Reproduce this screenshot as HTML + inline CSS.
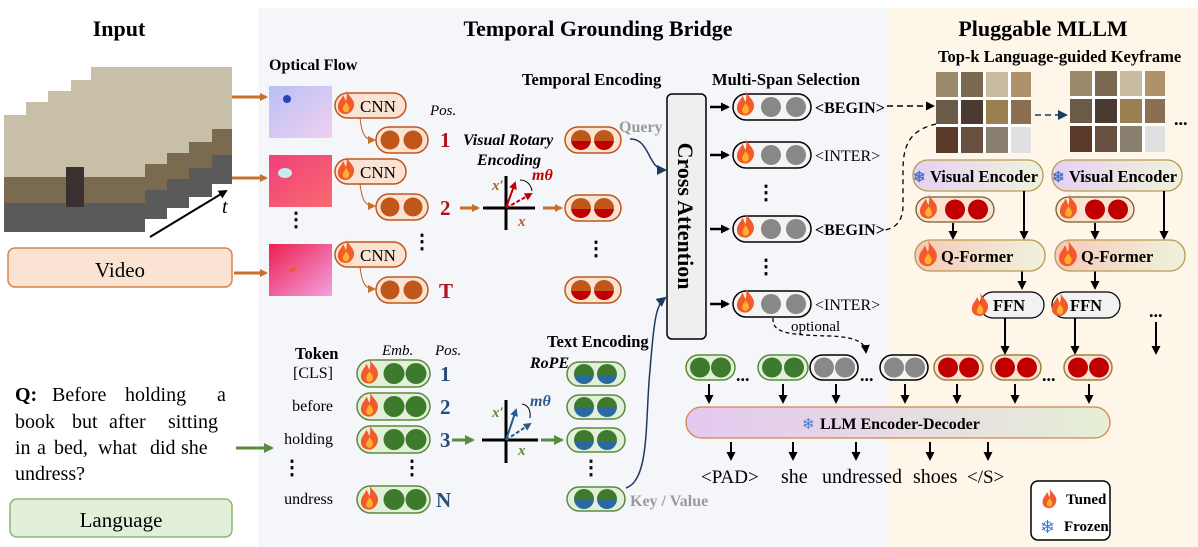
<!DOCTYPE html>
<html><head><meta charset="utf-8"><style>
html,body{margin:0;padding:0;background:#fff;}
svg{display:block;}
text{font-family:"Liberation Serif",serif;}
.b{font-weight:bold;}
.m{font-family:"Liberation Mono",monospace;}
</style></head><body>
<svg width="1198" height="547" viewBox="0 0 1198 547" xmlns="http://www.w3.org/2000/svg">
<defs>
<symbol id="fire" viewBox="0 0 20 24"><path d="M10 0 C12 6 19 9 18 16 C17 21 13 24 10 24 C5 24 1 21 2 15 C3 10 6 9 7 5 C9 8 9 10 10 11 C11 7 11 4 10 0Z" fill="#f25a2a"/><path d="M10 12 C12 15 14 17 13 20 C12 23 8 23 7 20 C6 17 9 15 10 12Z" fill="#fbb030"/></symbol>
<marker id="ao" markerWidth="8" markerHeight="8" refX="6" refY="4" orient="auto" markerUnits="userSpaceOnUse"><path d="M0 0L8 4L0 8Z" fill="#c8702a"/></marker>
<marker id="ak" markerWidth="9" markerHeight="9" refX="7" refY="4.5" orient="auto" markerUnits="userSpaceOnUse"><path d="M0 0L9 4.5L0 9Z" fill="#000"/></marker>
<marker id="an" markerWidth="10" markerHeight="10" refX="8" refY="5" orient="auto" markerUnits="userSpaceOnUse"><path d="M0 0L10 5L0 10Z" fill="#1f3a60"/></marker>
<marker id="ag" markerWidth="10" markerHeight="10" refX="8" refY="5" orient="auto" markerUnits="userSpaceOnUse"><path d="M0 0L10 5L0 10Z" fill="#5b8a3c"/></marker>
<marker id="ar" markerWidth="8" markerHeight="8" refX="6" refY="4" orient="auto" markerUnits="userSpaceOnUse"><path d="M0 0L8 4L0 8Z" fill="#c00000"/></marker>
<marker id="ab" markerWidth="8" markerHeight="8" refX="6" refY="4" orient="auto" markerUnits="userSpaceOnUse"><path d="M0 0L8 4L0 8Z" fill="#2a5b8c"/></marker>
<linearGradient id="ve" x1="0" x2="1"><stop offset="0" stop-color="#e6d0f2"/><stop offset="1" stop-color="#eef3dc"/></linearGradient>
<linearGradient id="qf" x1="0" x2="1"><stop offset="0" stop-color="#f6c9b8"/><stop offset="1" stop-color="#eef3dc"/></linearGradient>
<linearGradient id="llm" x1="0" x2="1"><stop offset="0" stop-color="#e5c8f0"/><stop offset="1" stop-color="#e6efd6"/></linearGradient>
<linearGradient id="te" x1="0" y1="0" x2="0" y2="1"><stop offset="0.55" stop-color="#c0561a"/><stop offset="0.56" stop-color="#c00000"/></linearGradient>
<linearGradient id="tg" x1="0" y1="0" x2="0" y2="1"><stop offset="0.55" stop-color="#3e7a2e"/><stop offset="0.56" stop-color="#2a6aa0"/></linearGradient>
<linearGradient id="f1" x1="0" y1="0" x2="1" y2="1"><stop offset="0" stop-color="#b8c0f4"/><stop offset="1" stop-color="#f0d0f2"/></linearGradient>
<linearGradient id="f2" x1="0" y1="0" x2="1" y2="1"><stop offset="0" stop-color="#f0407a"/><stop offset="1" stop-color="#f86a70"/></linearGradient>
<linearGradient id="f3" x1="0" y1="0" x2="1" y2="1"><stop offset="0" stop-color="#ec2050"/><stop offset="1" stop-color="#f4a0e0"/></linearGradient>
<g id="frame"><rect width="141" height="117" fill="#c8bfa8"/><rect y="62" width="141" height="55" fill="#7a6a50"/><rect y="88" width="141" height="29" fill="#5a5a5a"/><rect x="62" y="52" width="18" height="40" fill="#3a3030"/></g>
<g id="kf"><rect width="95" height="81" fill="#fff"/>
<rect x="0" y="0" width="22" height="25" fill="#9a8a6a"/><rect x="25" y="0" width="22" height="25" fill="#7a6850"/><rect x="50" y="0" width="22" height="25" fill="#c8bca0"/><rect x="75" y="0" width="20" height="25" fill="#b0926a"/>
<rect x="0" y="28" width="22" height="24" fill="#6a5a48"/><rect x="25" y="28" width="22" height="24" fill="#4a3a30"/><rect x="50" y="28" width="22" height="24" fill="#9a8050"/><rect x="75" y="28" width="20" height="24" fill="#8a7050"/>
<rect x="0" y="55" width="22" height="26" fill="#5a3a28"/><rect x="25" y="55" width="22" height="26" fill="#6a5040"/><rect x="50" y="55" width="22" height="26" fill="#8a8070"/><rect x="75" y="55" width="20" height="26" fill="#e0e0e0"/></g>
</defs>

<rect x="258" y="8" width="630" height="539" fill="#f4f6fa"/>
<rect x="888" y="8" width="310" height="539" fill="#fdf6e9"/>

<text x="119" y="36" font-size="22" class="b" text-anchor="middle">Input</text>
<text x="598" y="36" font-size="22" class="b" text-anchor="middle">Temporal Grounding Bridge</text>
<text x="1043" y="36" font-size="22" class="b" text-anchor="middle">Pluggable MLLM</text>

<use href="#frame" x="91" y="67"/>
<use href="#frame" x="71" y="80"/>
<use href="#frame" x="48" y="91"/>
<use href="#frame" x="26" y="102"/>
<use href="#frame" x="4" y="115"/>
<line x1="150" y1="237" x2="226" y2="191" stroke="#000" stroke-width="2" marker-end="url(#ak)"/>
<text x="222" y="213" font-size="20" font-family="DejaVu Sans" font-style="italic">t</text>
<rect x="8" y="248" width="224" height="39" rx="7" fill="#fbe3d3" stroke="#d8834a" stroke-width="1.5"/>
<text x="120" y="277" font-size="21" text-anchor="middle">Video</text>
<g stroke="#c8702a" stroke-width="3" marker-end="url(#ao)">
<line x1="232" y1="97" x2="266" y2="97"/><line x1="232" y1="178" x2="266" y2="178"/><line x1="234" y1="273" x2="266" y2="273"/></g>

<text x="269" y="70" font-size="16" class="b">Optical Flow</text>
<rect x="269" y="86" width="63" height="52" fill="url(#f1)"/><circle cx="287" cy="99" r="4" fill="#2a40c0"/>
<rect x="269" y="155" width="63" height="52" fill="url(#f2)"/><ellipse cx="285" cy="173" rx="7" ry="5" fill="#c8eaf0"/>
<rect x="269" y="244" width="63" height="52" fill="url(#f3)"/><path d="M287 270l10 -3 -3 5z" fill="#e06020"/>
<g font-size="20" font-weight="bold"><text x="286" y="226">⋮</text><text x="412" y="248">⋮</text></g>

<g>
<rect x="335" y="93" width="71" height="25" rx="12.5" fill="#fbe3d3" stroke="#c0561a" stroke-width="1.5"/><use href="#fire" x="336" y="89" width="20" height="26"/><text x="360" y="112" font-size="17">CNN</text>
<rect x="335" y="159" width="71" height="25" rx="12.5" fill="#fbe3d3" stroke="#c0561a" stroke-width="1.5"/><use href="#fire" x="336" y="155" width="20" height="26"/><text x="360" y="178" font-size="17">CNN</text>
<rect x="335" y="242" width="71" height="25" rx="12.5" fill="#fbe3d3" stroke="#c0561a" stroke-width="1.5"/><use href="#fire" x="336" y="238" width="20" height="26"/><text x="360" y="261" font-size="17">CNN</text>
</g>
<g fill="none" stroke="#c0561a" stroke-width="1">
<path d="M360 118 C362 135 365 140 374 140" marker-end="url(#ao)"/><path d="M360 184 C362 200 365 206 374 206" marker-end="url(#ao)"/><path d="M360 267 C362 283 365 289 374 289" marker-end="url(#ao)"/></g>
<g>
<rect x="376" y="127" width="52" height="26" rx="13" fill="#fbe3d3" stroke="#c0561a" stroke-width="1.5"/><circle cx="390" cy="140" r="9.5" fill="#c0561a"/><circle cx="413" cy="140" r="9.5" fill="#c0561a"/>
<rect x="376" y="194" width="52" height="26" rx="13" fill="#fbe3d3" stroke="#c0561a" stroke-width="1.5"/><circle cx="390" cy="207" r="9.5" fill="#c0561a"/><circle cx="413" cy="207" r="9.5" fill="#c0561a"/>
<rect x="376" y="277" width="52" height="26" rx="13" fill="#fbe3d3" stroke="#c0561a" stroke-width="1.5"/><circle cx="390" cy="290" r="9.5" fill="#c0561a"/><circle cx="413" cy="290" r="9.5" fill="#c0561a"/>
</g>
<text x="430" y="115" font-size="15" font-style="italic">Pos.</text>
<g fill="#b01020" font-size="21" font-weight="bold"><text x="440" y="147">1</text><text x="440" y="215">2</text><text x="439" y="298">T</text></g>

<text x="463" y="145" font-size="16" font-weight="bold" font-style="italic">Visual Rotary</text>
<text x="477" y="165" font-size="16" font-weight="bold" font-style="italic">Encoding</text>
<line x1="460" y1="208" x2="478" y2="208" stroke="#c8702a" stroke-width="3" marker-end="url(#ao)"/>
<line x1="483" y1="208" x2="535" y2="208" stroke="#000" stroke-width="3"/>
<line x1="506" y1="176" x2="506" y2="230" stroke="#000" stroke-width="3"/>
<line x1="506" y1="208" x2="515" y2="183" stroke="#c00000" stroke-width="2" marker-end="url(#ar)"/>
<line x1="506" y1="208" x2="531" y2="194" stroke="#c00000" stroke-width="2" stroke-dasharray="4 2" marker-end="url(#ar)"/>
<path d="M532 191 C531 184 526 180 520 180" fill="none" stroke="#000" stroke-width="1"/>
<text x="492" y="190" font-size="15" font-style="italic" font-weight="bold" fill="#c0561a">x′</text>
<text x="518" y="226" font-size="15" font-style="italic" font-weight="bold" fill="#c0561a">x</text>
<text x="532" y="180" font-size="16" font-style="italic" font-weight="bold" fill="#c00000">mθ</text>
<line x1="543" y1="208" x2="561" y2="208" stroke="#c8702a" stroke-width="3" marker-end="url(#ao)"/>

<text x="522" y="85" font-size="16.5" class="b">Temporal Encoding</text>
<g>
<rect x="565" y="127" width="56" height="26" rx="13" fill="#fbe3d3" stroke="#c0561a" stroke-width="1.5"/><circle cx="581" cy="140" r="10" fill="url(#te)"/><circle cx="604" cy="140" r="10" fill="url(#te)"/>
<rect x="565" y="195" width="56" height="26" rx="13" fill="#fbe3d3" stroke="#c0561a" stroke-width="1.5"/><circle cx="581" cy="208" r="10" fill="url(#te)"/><circle cx="604" cy="208" r="10" fill="url(#te)"/>
<rect x="565" y="277" width="56" height="26" rx="13" fill="#fbe3d3" stroke="#c0561a" stroke-width="1.5"/><circle cx="581" cy="290" r="10" fill="url(#te)"/><circle cx="604" cy="290" r="10" fill="url(#te)"/>
</g>
<text x="586" y="255" font-size="20" font-weight="bold">⋮</text>
<text x="619" y="132" font-size="16" font-weight="bold" fill="#9a9a9a">Query</text>
<path d="M630 139 C650 138 648 170 665 170" fill="none" stroke="#1f3a60" stroke-width="1.5" marker-end="url(#an)"/>

<rect x="667" y="94" width="39" height="245" rx="5" fill="#efefef" stroke="#000" stroke-width="1.5"/>
<text transform="translate(678,216) rotate(90)" font-size="22" font-weight="bold" text-anchor="middle">Cross Attention</text>

<text x="712" y="85" font-size="16.5" class="b">Multi-Span Selection</text>
<g stroke="#000" stroke-width="2.5" marker-end="url(#ak)">
<line x1="710" y1="107" x2="728" y2="107"/><line x1="710" y1="155" x2="728" y2="155"/><line x1="710" y1="229" x2="728" y2="229"/><line x1="710" y1="304" x2="728" y2="304"/></g>
<g>
<rect x="733" y="94" width="78" height="26" rx="13" fill="#f4f4f4" stroke="#000" stroke-width="1.5"/><use href="#fire" x="735" y="89" width="21" height="28"/><circle cx="771" cy="107" r="10" fill="#888"/><circle cx="796" cy="107" r="10" fill="#888"/>
<rect x="733" y="142" width="78" height="26" rx="13" fill="#f4f4f4" stroke="#000" stroke-width="1.5"/><use href="#fire" x="735" y="137" width="21" height="28"/><circle cx="771" cy="155" r="10" fill="#888"/><circle cx="796" cy="155" r="10" fill="#888"/>
<rect x="733" y="216" width="78" height="26" rx="13" fill="#f4f4f4" stroke="#000" stroke-width="1.5"/><use href="#fire" x="735" y="211" width="21" height="28"/><circle cx="771" cy="229" r="10" fill="#888"/><circle cx="796" cy="229" r="10" fill="#888"/>
<rect x="733" y="291" width="78" height="26" rx="13" fill="#f4f4f4" stroke="#000" stroke-width="1.5"/><use href="#fire" x="735" y="286" width="21" height="28"/><circle cx="771" cy="304" r="10" fill="#888"/><circle cx="796" cy="304" r="10" fill="#888"/>
</g>
<g font-size="20" font-weight="bold"><text x="756" y="199">⋮</text><text x="756" y="273">⋮</text></g>
<g font-size="16" class="m"><text x="815" y="113" font-weight="bold">&lt;BEGIN&gt;</text><text x="815" y="161">&lt;INTER&gt;</text><text x="815" y="235" font-weight="bold">&lt;BEGIN&gt;</text><text x="815" y="310">&lt;INTER&gt;</text></g>
<text x="791" y="331" font-size="15">optional</text>
<path d="M773 318 C772 332 785 335 830 336 C855 337 865 342 866 352" fill="none" stroke="#000" stroke-width="1.3" stroke-dasharray="4 3" marker-end="url(#ak)"/>

<line x1="887" y1="106" x2="933" y2="106" stroke="#000" stroke-width="1.5" stroke-dasharray="6 4" marker-end="url(#ak)"/>
<line x1="1035" y1="115" x2="1066" y2="115" stroke="#1f3a60" stroke-width="1.5" stroke-dasharray="6 4" marker-end="url(#an)"/>
<path d="M936 124 C910 130 903 145 903 170 L903 205 C903 222 895 228 885 230" fill="none" stroke="#000" stroke-width="1.3" stroke-dasharray="5 4"/>

<text x="938" y="62" font-size="16.5" class="b">Top-k  Language-guided Keyframe</text>
<use href="#kf" x="936" y="72"/>
<use href="#kf" x="1070" y="71"/>
<text x="1174" y="125" font-size="18" font-weight="bold">...</text>

<g font-size="16.5" font-weight="bold">
<rect x="913" y="160" width="130" height="31" rx="15" fill="url(#ve)" stroke="#b89a50" stroke-width="1.3"/><text x="913" y="182" font-family="DejaVu Sans" fill="#4a78c8" font-size="15">❄</text><text x="930" y="182">Visual Encoder</text>
<rect x="1052" y="160" width="130" height="31" rx="15" fill="url(#ve)" stroke="#b89a50" stroke-width="1.3"/><text x="1052" y="182" font-family="DejaVu Sans" fill="#4a78c8" font-size="15">❄</text><text x="1069" y="182">Visual Encoder</text>
</g>
<g>
<rect x="916" y="197" width="78" height="25" rx="12.5" fill="#fbe3d3" stroke="#7a5a2a" stroke-width="1.3"/><use href="#fire" x="918" y="192" width="21" height="28"/><circle cx="955" cy="209.5" r="10" fill="#c00000"/><circle cx="978" cy="209.5" r="10" fill="#c00000"/>
<rect x="1056" y="197" width="78" height="25" rx="12.5" fill="#fbe3d3" stroke="#7a5a2a" stroke-width="1.3"/><use href="#fire" x="1058" y="192" width="21" height="28"/><circle cx="1095" cy="209.5" r="10" fill="#c00000"/><circle cx="1118" cy="209.5" r="10" fill="#c00000"/>
</g>
<g stroke="#000" stroke-width="2" marker-end="url(#ak)">
<line x1="953" y1="223" x2="953" y2="238"/><line x1="1024" y1="191" x2="1024" y2="238"/>
<line x1="1095" y1="223" x2="1095" y2="238"/><line x1="1164" y1="191" x2="1164" y2="238"/>
<line x1="1022" y1="271" x2="1022" y2="288"/><line x1="1095" y1="271" x2="1095" y2="288"/>
</g>
<g font-size="16.5" font-weight="bold">
<rect x="915" y="240" width="130" height="31" rx="15" fill="url(#qf)" stroke="#b89a50" stroke-width="1.3"/><use href="#fire" x="917" y="238" width="22" height="30"/><text x="941" y="262">Q-Former</text>
<rect x="1055" y="240" width="130" height="31" rx="15" fill="url(#qf)" stroke="#b89a50" stroke-width="1.3"/><use href="#fire" x="1057" y="238" width="22" height="30"/><text x="1081" y="262">Q-Former</text>
<rect x="980" y="292" width="64" height="26" rx="13" fill="#f2f2f2" stroke="#000" stroke-width="1.2"/><use href="#fire" x="970" y="290" width="20" height="28"/><text x="993" y="311">FFN</text>
<rect x="1052" y="292" width="68" height="26" rx="13" fill="#f2f2f2" stroke="#000" stroke-width="1.2"/><use href="#fire" x="1050" y="290" width="20" height="28"/><text x="1070" y="311">FFN</text>
</g>
<text x="1149" y="317" font-size="18" font-weight="bold">...</text>
<g stroke="#000" stroke-width="2" marker-end="url(#ak)">
<line x1="1005" y1="318" x2="1005" y2="353"/><line x1="1075" y1="318" x2="1075" y2="353"/><line x1="1156" y1="322" x2="1156" y2="353"/></g>

<text x="295" y="359" font-size="16.5" class="b">Token</text>
<text x="382" y="355" font-size="15" font-style="italic">Emb.</text>
<text x="435" y="355" font-size="15" font-style="italic">Pos.</text>
<g font-size="16" text-anchor="end"><text x="333" y="378">[CLS]</text><text x="333" y="411">before</text><text x="333" y="444">holding</text><text x="333" y="504">undress</text></g>
<g font-size="20" font-weight="bold"><text x="282" y="474">⋮</text><text x="402" y="474">⋮</text><text x="581" y="474">⋮</text></g>
<g>
<rect x="357" y="360" width="73" height="27" rx="13.5" fill="#e2f0d9" stroke="#5b8a3c" stroke-width="1.5"/><use href="#fire" x="359" y="356" width="21" height="30"/><circle cx="394" cy="373.5" r="10.5" fill="#3e7a2e"/><circle cx="416" cy="373.5" r="10.5" fill="#3e7a2e"/>
<rect x="357" y="393" width="73" height="27" rx="13.5" fill="#e2f0d9" stroke="#5b8a3c" stroke-width="1.5"/><use href="#fire" x="359" y="389" width="21" height="30"/><circle cx="394" cy="406.5" r="10.5" fill="#3e7a2e"/><circle cx="416" cy="406.5" r="10.5" fill="#3e7a2e"/>
<rect x="357" y="426" width="73" height="27" rx="13.5" fill="#e2f0d9" stroke="#5b8a3c" stroke-width="1.5"/><use href="#fire" x="359" y="422" width="21" height="30"/><circle cx="394" cy="439.5" r="10.5" fill="#3e7a2e"/><circle cx="416" cy="439.5" r="10.5" fill="#3e7a2e"/>
<rect x="357" y="486" width="73" height="27" rx="13.5" fill="#e2f0d9" stroke="#5b8a3c" stroke-width="1.5"/><use href="#fire" x="359" y="482" width="21" height="30"/><circle cx="394" cy="499.5" r="10.5" fill="#3e7a2e"/><circle cx="416" cy="499.5" r="10.5" fill="#3e7a2e"/>
</g>
<g fill="#2a4d7a" font-size="21" font-weight="bold"><text x="440" y="381">1</text><text x="440" y="414">2</text><text x="440" y="447">3</text><text x="436" y="507">N</text></g>
<text x="530" y="368" font-size="16" font-weight="bold" font-style="italic">RoPE</text>
<line x1="452" y1="440" x2="473" y2="440" stroke="#5b8a3c" stroke-width="3" marker-end="url(#ag)"/>
<line x1="482" y1="440" x2="538" y2="440" stroke="#000" stroke-width="3"/>
<line x1="506" y1="400" x2="506" y2="463" stroke="#000" stroke-width="3"/>
<line x1="506" y1="440" x2="516" y2="410" stroke="#2a5b8c" stroke-width="2" marker-end="url(#ab)"/>
<line x1="506" y1="440" x2="530" y2="424" stroke="#2a5b8c" stroke-width="2" stroke-dasharray="4 2" marker-end="url(#ab)"/>
<path d="M530 418 C531 410 528 405 522 404" fill="none" stroke="#000" stroke-width="1"/>
<text x="492" y="417" font-size="15" font-style="italic" font-weight="bold" fill="#5b8a3c">x′</text>
<text x="518" y="455" font-size="15" font-style="italic" font-weight="bold" fill="#5b8a3c">x</text>
<text x="530" y="406" font-size="16" font-style="italic" font-weight="bold" fill="#2a5b8c">mθ</text>
<line x1="541" y1="440" x2="562" y2="440" stroke="#5b8a3c" stroke-width="3" marker-end="url(#ag)"/>
<text x="547" y="347" font-size="16.5" class="b">Text Encoding</text>
<g>
<rect x="567" y="362" width="58" height="24" rx="12" fill="#e2f0d9" stroke="#5b8a3c" stroke-width="1.5"/><circle cx="584" cy="374" r="10" fill="url(#tg)"/><circle cx="607" cy="374" r="10" fill="url(#tg)"/>
<rect x="567" y="395" width="58" height="24" rx="12" fill="#e2f0d9" stroke="#5b8a3c" stroke-width="1.5"/><circle cx="584" cy="407" r="10" fill="url(#tg)"/><circle cx="607" cy="407" r="10" fill="url(#tg)"/>
<rect x="567" y="428" width="58" height="24" rx="12" fill="#e2f0d9" stroke="#5b8a3c" stroke-width="1.5"/><circle cx="584" cy="440" r="10" fill="url(#tg)"/><circle cx="607" cy="440" r="10" fill="url(#tg)"/>
<rect x="567" y="487" width="58" height="24" rx="12" fill="#e2f0d9" stroke="#5b8a3c" stroke-width="1.5"/><circle cx="584" cy="499" r="10" fill="url(#tg)"/><circle cx="607" cy="499" r="10" fill="url(#tg)"/>
</g>
<text x="630" y="506" font-size="16" font-weight="bold" fill="#9a9a9a">Key / Value</text>
<path d="M626 488 C650 480 645 420 650 370 C654 320 656 305 665 298" fill="none" stroke="#1f3a60" stroke-width="1.5" marker-end="url(#an)"/>

<g font-size="20">
<text y="401"><tspan x="15" font-weight="bold">Q:</tspan><tspan x="52">Before</tspan><tspan x="125">holding</tspan><tspan x="217">a</tspan></text>
<text y="428"><tspan x="15">book</tspan><tspan x="72">but</tspan><tspan x="109">after</tspan><tspan x="168">sitting</tspan></text>
<text y="454"><tspan x="15">in</tspan><tspan x="37">a</tspan><tspan x="54">bed,</tspan><tspan x="98">what</tspan><tspan x="150">did</tspan><tspan x="181">she</tspan></text>
<text y="480" x="15">undress?</text>
</g>
<line x1="236" y1="448" x2="272" y2="448" stroke="#5b8a3c" stroke-width="3" marker-end="url(#ag)"/>
<rect x="10" y="499" width="222" height="38" rx="7" fill="#e2f0d9" stroke="#8bb870" stroke-width="1.5"/>
<text x="121" y="527" font-size="21" text-anchor="middle">Language</text>

<g>
<rect x="686" y="355" width="49" height="25" rx="12.5" fill="#e2f0d9" stroke="#5b8a3c" stroke-width="1.5"/><circle cx="700" cy="367.5" r="10" fill="#3e7a2e"/><circle cx="721" cy="367.5" r="10" fill="#3e7a2e"/>
<rect x="758" y="355" width="50" height="25" rx="12.5" fill="#e2f0d9" stroke="#5b8a3c" stroke-width="1.5"/><circle cx="772" cy="367.5" r="10" fill="#3e7a2e"/><circle cx="794" cy="367.5" r="10" fill="#3e7a2e"/>
<rect x="810" y="355" width="48" height="25" rx="12.5" fill="#f4f4f4" stroke="#000" stroke-width="1.5"/><circle cx="824" cy="367.5" r="10" fill="#888"/><circle cx="845" cy="367.5" r="10" fill="#888"/>
<rect x="880" y="355" width="48" height="25" rx="12.5" fill="#f4f4f4" stroke="#000" stroke-width="1.5"/><circle cx="894" cy="367.5" r="10" fill="#888"/><circle cx="915" cy="367.5" r="10" fill="#888"/>
<rect x="934" y="355" width="49" height="25" rx="12.5" fill="#fbe3d3" stroke="#a08040" stroke-width="1.5"/><circle cx="948" cy="367.5" r="10" fill="#c00000"/><circle cx="969" cy="367.5" r="10" fill="#c00000"/>
<rect x="991" y="355" width="50" height="25" rx="12.5" fill="#fbe3d3" stroke="#a08040" stroke-width="1.5"/><circle cx="1005" cy="367.5" r="10" fill="#c00000"/><circle cx="1027" cy="367.5" r="10" fill="#c00000"/>
<rect x="1064" y="355" width="48" height="25" rx="12.5" fill="#fbe3d3" stroke="#a08040" stroke-width="1.5"/><circle cx="1078" cy="367.5" r="10" fill="#c00000"/><circle cx="1099" cy="367.5" r="10" fill="#c00000"/>
</g>
<g font-size="18" font-weight="bold"><text x="736" y="381">...</text><text x="860" y="381">...</text><text x="1042" y="381">...</text></g>
<g stroke="#000" stroke-width="2" marker-end="url(#ak)">
<line x1="709" y1="384" x2="709" y2="402"/><line x1="783" y1="384" x2="783" y2="402"/><line x1="836" y1="384" x2="836" y2="402"/><line x1="905" y1="384" x2="905" y2="402"/><line x1="957" y1="384" x2="957" y2="402"/><line x1="1015" y1="384" x2="1015" y2="402"/><line x1="1089" y1="384" x2="1089" y2="402"/>
<line x1="731" y1="442" x2="731" y2="459"/><line x1="793" y1="442" x2="793" y2="459"/><line x1="856" y1="442" x2="856" y2="459"/><line x1="930" y1="442" x2="930" y2="459"/><line x1="988" y1="442" x2="988" y2="459"/>
</g>
<rect x="686" y="407" width="424" height="31" rx="15.5" fill="url(#llm)" stroke="#d8834a" stroke-width="1.3"/>
<text x="802" y="429" font-size="15" font-family="DejaVu Sans" fill="#4a78c8">❄</text>
<text x="820" y="429" font-size="16" font-weight="bold">LLM Encoder-Decoder</text>
<text x="701" y="483" font-size="19" font-family="DejaVu Sans Mono, Liberation Mono, monospace">&lt;PAD&gt;</text>
<text x="781" y="483" font-size="20">she</text>
<text x="822" y="483" font-size="20">undressed</text>
<text x="913" y="483" font-size="20">shoes</text>
<text x="967" y="483" font-size="19" font-family="DejaVu Sans Mono, Liberation Mono, monospace">&lt;/S&gt;</text>

<rect x="1031" y="481" width="79" height="59" rx="7" fill="#fff" stroke="#000" stroke-width="1.5"/>
<use href="#fire" x="1041" y="486" width="17" height="24"/>
<text x="1066" y="504" font-size="15" font-weight="bold">Tuned</text>
<text x="1040" y="533" font-size="18" font-family="DejaVu Sans" fill="#4a78c8">❄</text>
<text x="1064" y="531" font-size="15" font-weight="bold">Frozen</text>
</svg>
</body></html>
